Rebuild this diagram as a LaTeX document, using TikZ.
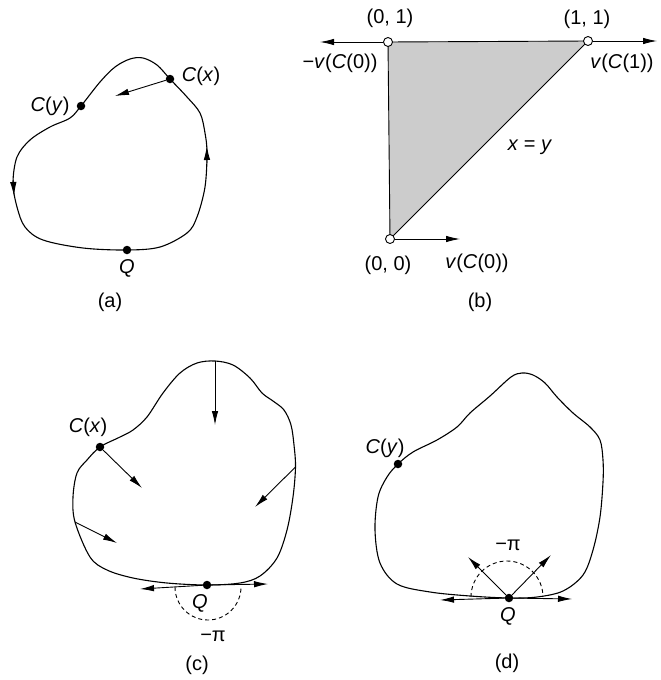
\documentclass[tikz,border=0pt]{standalone}
\usepackage{fontspec}
\setmainfont{Liberation Sans}
\usetikzlibrary{arrows.meta}

\tikzset{
  curve/.style={line width=1.1pt},
  vec/.style={line width=0.9pt, -{Latex[length=14pt,width=6.5pt]}},
  dot/.style={circle, fill=black, inner sep=0pt, minimum size=8.5pt},
  hole/.style={circle, draw, fill=white, line width=0.9pt, inner sep=0pt, minimum size=9pt},
  lbl/.style={font=\fontsize{20}{23}\selectfont, inner sep=1pt},
  halfarc/.style={line width=0.9pt, dash pattern=on 4pt off 3pt},
}
\newcommand{\vi}[1]{\textit{#1}}

\begin{document}
\begin{tikzpicture}[x=1pt, y=-1pt]
  \useasboundingbox (0,0) rectangle (661,680);

  % --- Panel (a): the orbit ---
  \coordinate (pcx) at (170,79);
  \coordinate (pcy) at (81,106);
  \coordinate (pq) at (127,250);
  \draw[curve] plot[smooth cycle, tension=0.55] coordinates {
    (pq) (160,247) (187,233) (197,217) (205,187) (207,153) (205,133)
    (200,113) (187,97) (pcx) (157,65) (143,58) (130,59) (115,67) (100,82)
    (pcy) (70,118) (50,127) (30,140) (17,157) (13,183) (17,207) (25,227)
    (43,240) (83,248)};
  % direction of flow
  \draw[vec] (13.2,180) -- (14,196);
  \draw[vec] (207,163) -- (206.8,146);
  \node[dot] (cxa) at (pcx) {};
  \node[dot] (cya) at (pcy) {};
  \node[dot] (qa) at (pq) {};
  \coordinate (tipa) at (115,96);
  \draw[vec] (cxa) -- (tipa);
  \node[lbl] at (201,76) {\vi{C}(\vi{x})};
  \node[lbl] at (50,106) {\vi{C}(\vi{y})};
  \node[lbl] at (127,268) {\vi{Q}};
  \node[lbl] at (110,302) {(a)};

  % --- Panel (b): the triangle ---
  \coordinate (p01) at (388,42);
  \coordinate (p11) at (588,41);
  \coordinate (p00) at (390,239);
  \fill[black!20] (p00) -- (p01) -- (p11) -- cycle;
  \draw[line width=0.9pt] (p00) -- (p01) -- (p11) -- cycle;
  \node[hole] (o01) at (p01) {};
  \node[hole] (o11) at (p11) {};
  \node[hole] (o00) at (p00) {};
  \coordinate (e01) at (320,42);
  \coordinate (e11) at (657,41);
  \coordinate (e00) at (460,239);
  \draw[vec] (o01) -- (e01);
  \draw[vec] (o11) -- (e11);
  \draw[vec] (o00) -- (e00);
  \node[lbl] at (390,18) {(0, 1)};
  \node[lbl] at (587,19) {(1, 1)};
  \node[lbl] at (340,63) {−\vi{v}(\vi{C}(0))};
  \node[lbl] at (622,63) {\vi{v}(\vi{C}(1))};
  \node[lbl] at (530,147) {\vi{x} = \vi{y}};
  \node[lbl] at (388,265) {(0, 0)};
  \node[lbl] at (477,263) {\vi{v}(\vi{C}(0))};
  \node[lbl] at (480,302) {(b)};

  % --- Panel (c) ---
  \coordinate (ptc) at (215,361);
  \coordinate (pxc) at (100,447);
  \coordinate (prc) at (295.5,467);
  \coordinate (plc) at (75,522);
  \coordinate (pqc) at (207,585);
  \draw[curve] plot[smooth cycle, tension=0.55] coordinates {
    (ptc) (233,365) (250,378) (262,393) (273,401) (284,410) (291,425)
    (294,445) (prc) (293,497) (287,530) (277,558) (260,576) (240,583)
    (pqc) (167,583) (133,578) (107,570) (90,557) (plc) (73,497)
    (77,473) (87,460) (pxc) (120,437) (133,430) (147,417) (163,393)
    (180,373) (197,363)};
  \node[dot] (xc) at (pxc) {};
  \node[dot] (qc) at (pqc) {};
  \coordinate (etc) at (215,425);
  \coordinate (exc) at (142,488);
  \coordinate (erc) at (255,507);
  \coordinate (elc) at (117,543);
  \coordinate (eql) at (140,589);
  \coordinate (eqr) at (268,584);
  \draw[vec] (ptc) -- (etc);
  \draw[vec] (xc) -- (exc);
  \draw[vec] (prc) -- (erc);
  \draw[vec] (plc) -- (elc);
  \draw[vec] (qc) -- (eql);
  \draw[vec] (qc) -- (eqr);
  \draw[halfarc] (175,587) arc[start angle=180, end angle=0, radius=33];
  \node[lbl] at (88,427) {\vi{C}(\vi{x})};
  \node[lbl] at (200,603) {\vi{Q}};
  \node[lbl] at (213,636) {−π};
  \node[lbl] at (197,665) {(c)};

  % --- Panel (d) ---
  \coordinate (pyd) at (398,464);
  \coordinate (pqd) at (509,598);
  \draw[curve] plot[smooth cycle, tension=0.55] coordinates {
    (522,373) (533,375) (545,383) (557,397) (573,413) (590,427) (600,440)
    (603,460) (603,482) (600,517) (593,550) (583,575) (563,591) (537,597)
    (pqd) (470,596) (430,592) (397,584) (380,563) (375,530) (378,497)
    (387,477) (pyd) (413,452) (437,440) (457,427) (470,413) (490,396)
    (511,377)};
  \node[dot] (yd) at (pyd) {};
  \node[dot] (qd) at (pqd) {};
  \coordinate (eql2) at (440,600);
  \coordinate (eqr2) at (572,599);
  \coordinate (equl) at (468,557);
  \coordinate (equr) at (551,555);
  \draw[vec] (qd) -- (eql2);
  \draw[vec] (qd) -- (eqr2);
  \draw[vec] (qd) -- (equl);
  \draw[vec] (qd) -- (equr);
  \draw[halfarc] (471,597) arc[start angle=180, end angle=360, radius=36];
  \node[lbl] at (385,448) {\vi{C}(\vi{y})};
  \node[lbl] at (508,545) {−π};
  \node[lbl] at (508,616) {\vi{Q}};
  \node[lbl] at (507,663) {(d)};
\end{tikzpicture}
\end{document}
